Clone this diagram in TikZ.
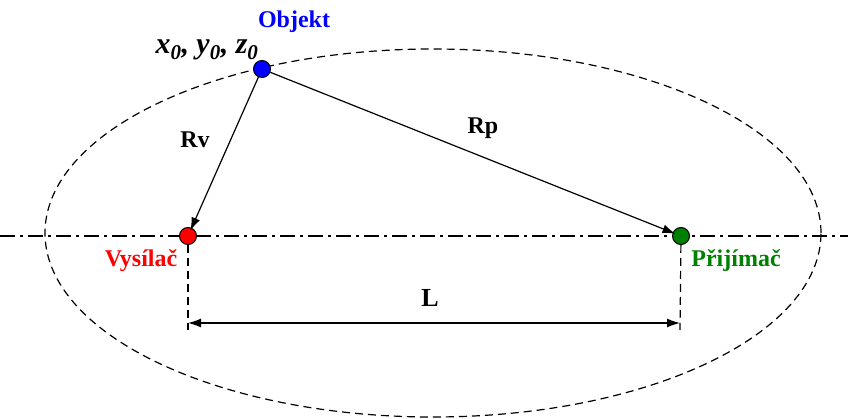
\documentclass[tikz,border=0pt]{standalone}
\usepackage{fontspec}
\setmainfont{Liberation Serif}
\usetikzlibrary{arrows.meta}
\tikzset{
  dot/.style={
    circle, draw=black, line width=1pt,
    minimum size=17pt, inner sep=0pt
  },
  lbl/.style={font=\fontsize{24}{28}\selectfont\bfseries, inner sep=1pt},
  axisline/.style={line width=1.3pt, dash pattern=on 15pt off 5pt on 3pt off 5pt},
  helpline/.style={line width=1.2pt, dash pattern=on 8pt off 5pt},
  ray/.style={line width=1.2pt, -{Latex[length=13pt,width=9pt]}},
  dimline/.style={line width=1.3pt,
    {Latex[length=13pt,width=9pt]}-{Latex[length=13pt,width=9pt]}}
}
\begin{document}
\begin{tikzpicture}[x=1pt, y=-1pt]
  \useasboundingbox (0,0) rectangle (848,419);
  %
  % ==================================================================
  % ellipse and axis
  % ==================================================================
  \draw[helpline] (433,233) ellipse [x radius=388pt, y radius=184pt];
  \coordinate (axisW) at (0,236);
  \coordinate (axisE) at (848,236);
  \draw[axisline] (axisW) -- (axisE);
  %
  % ==================================================================
  % transmitter, receiver, object
  % ==================================================================
  \node[dot, fill=red]            (vys) at (188,236) {};
  \node[dot, fill=green!50!black] (pri) at (681,236) {};
  \node[dot, fill=blue]           (obj) at (262,69)  {};
  %
  \node[lbl, text=red]            (vysL) at (141,261) {Vysílač};
  \node[lbl, text=green!50!black] (priL) at (736,261) {Přijímač};
  \node[lbl, text=blue]           (objL) at (294,22)  {Objekt};
  \node[font=\fontsize{30}{34}\selectfont\bfseries\itshape, inner sep=0pt]
    (xyz) at (207,50) {x\textsubscript{0}, y\textsubscript{0}, z\textsubscript{0}};
  %
  % ==================================================================
  % distances
  % ==================================================================
  \draw[ray, shorten >=-3pt] (obj) -- (vys);
  \draw[ray, shorten >=-3pt] (obj) -- (pri);
  \node[lbl] (rv) at (195,140) {Rv};
  \node[lbl] (rp) at (483,128) {Rp};
  %
  \coordinate (vysB) at (188,330);
  \coordinate (priB) at (680,330);
  \draw[helpline] (vys) -- (vysB);
  \draw[helpline] (pri) -- (priB);
  \draw[dimline] ([yshift=7pt]vysB) -- ([yshift=7pt]priB);
  \node[lbl, font=\fontsize{26}{30}\selectfont\bfseries] (len) at (430,298) {L};
\end{tikzpicture}
\end{document}
